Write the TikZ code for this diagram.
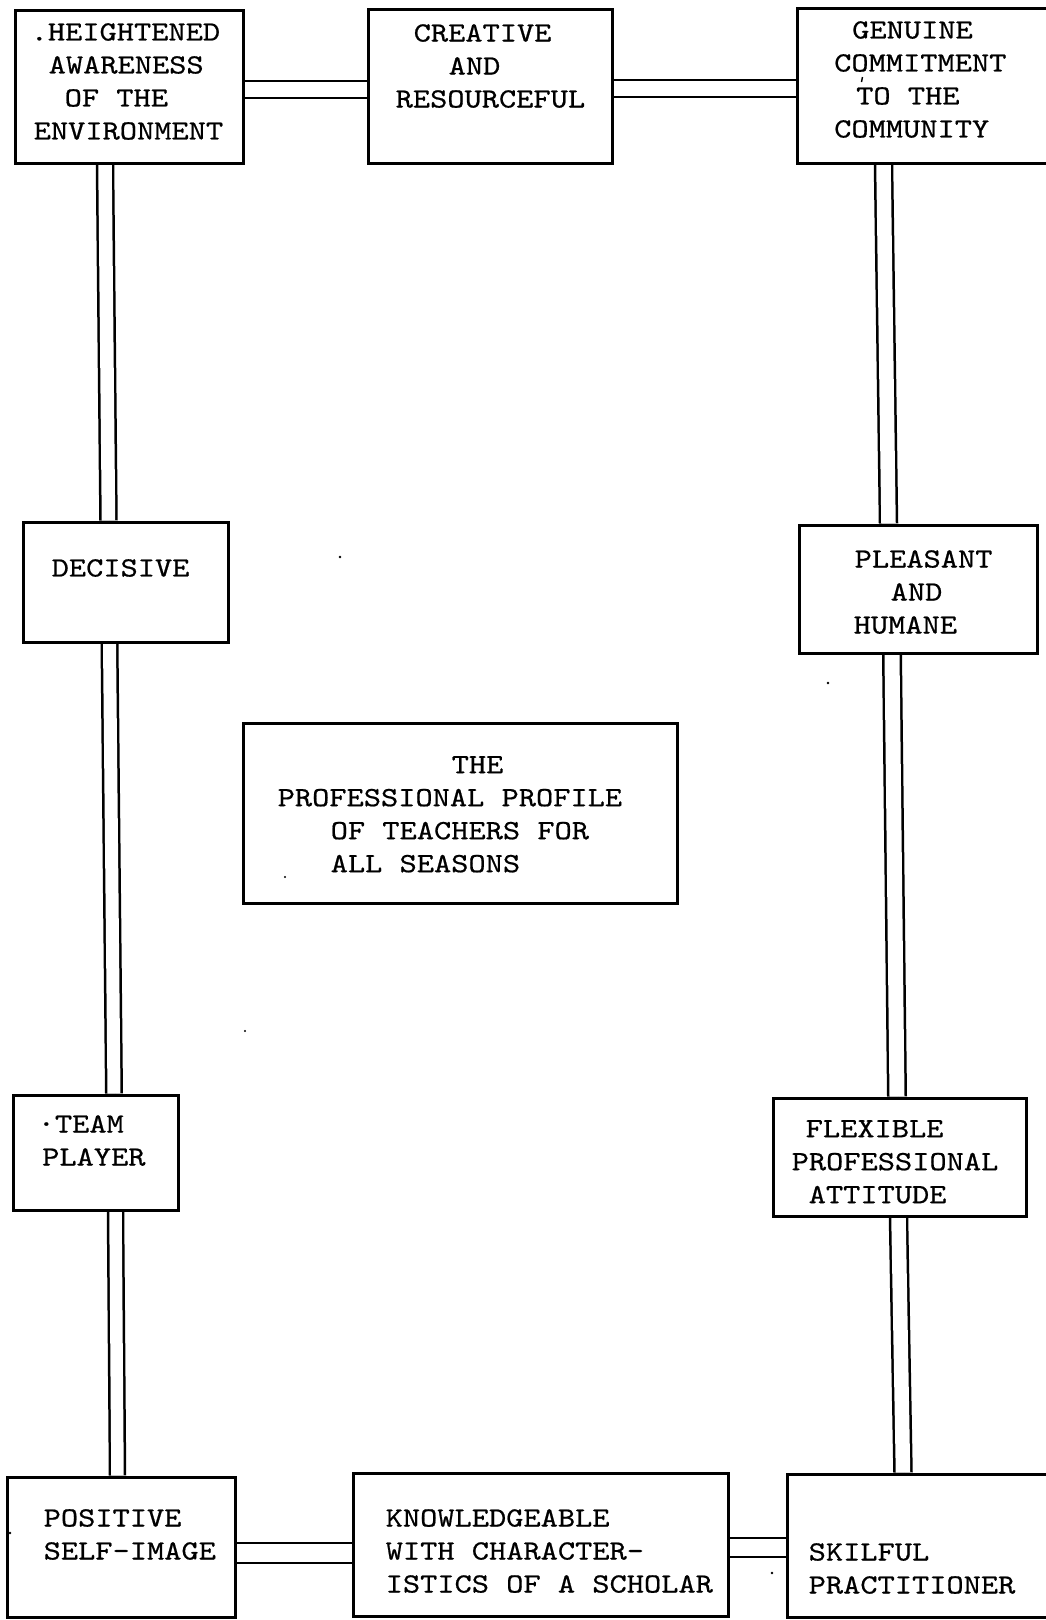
\documentclass[tikz,border=0pt]{standalone}
\usepackage{fontspec}
\usetikzlibrary{backgrounds}
% typewriter face, widened to a pica pitch and given a little ink
\newfontfamily\typer{lmmono10-regular.otf}[FakeStretch=1.18,FakeBold=0.6]
\newcommand\hsk[1]{\hspace*{#1pt}}
\begin{document}
\begin{tikzpicture}[x=1pt,y=-1pt,
  box/.style={draw, line width=3pt, inner sep=0pt},
  lbl/.style={anchor=north west, inner sep=0pt, align=left,
    font={\typer\fontsize{27.8pt}{33pt}\selectfont}},
  link/.style={draw, double, line width=2.5pt, double distance=#1},
  speck/.style={fill=black}]
\useasboundingbox (0,0) rectangle (1046,1620);

% boxes
\node[box, minimum width=228pt, minimum height=153pt] (hei) at (129,86.5) {};
\node[box, minimum width=244pt, minimum height=154pt] (cre) at (490,86) {};
\node[box, minimum width=255pt, minimum height=155pt] (gen) at (924.5,85.5) {};
\node[box, minimum width=205pt, minimum height=120pt] (dec) at (125.5,582) {};
\node[box, minimum width=238pt, minimum height=128pt] (ple) at (918,589) {};
\node[box, minimum width=434pt, minimum height=180pt] (cen) at (460,813) {};
\node[box, minimum width=165pt, minimum height=115pt] (team) at (95.5,1152.5) {};
\node[box, minimum width=253pt, minimum height=118pt] (flex) at (899.5,1157) {};
\node[box, minimum width=228pt, minimum height=140pt] (pos) at (121,1547) {};
\node[box, minimum width=375pt, minimum height=143pt] (kno) at (540.5,1544.5) {};
\node[box, minimum width=265pt, minimum height=143pt] (skil) at (919.5,1545.5) {};

% labels
\node[lbl] (heit) at (30.5,23) {.HEIGHTENED\\\hsk{18}AWARENESS\\\hsk{34}OF THE\\\hsk{3}ENVIRONMENT};
\node[lbl] (cret) at (395.5,24) {\hsk{18}CREATIVE\\\hsk{53}AND\\RESOURCEFUL};
\node[lbl] (gent) at (834,21) {\hsk{18}GENUINE\\COMMITMENT\\\hsk{22}TO THE\\COMMUNITY};
\node[lbl] (dect) at (51.5,559) {DECISIVE};
\node[lbl] (plet) at (853.5,550) {\hsk{1}PLEASANT\\\hsk{37}AND\\HUMANE};
\node[lbl] (cent) at (277.5,756) {\hsk{174}THE\\PROFESSIONAL PROFILE\\\hsk{53}OF TEACHERS FOR\\\hsk{53}ALL SEASONS};
\node[lbl] (teamt) at (37.5,1115) {·TEAM\\\hsk{4.5}PLAYER};
\node[lbl] (flext) at (791.5,1120) {\hsk{14}FLEXIBLE\\PROFESSIONAL\\\hsk{17}ATTITUDE};
\node[lbl] (post) at (43.5,1509) {POSITIVE\\SELF-IMAGE};
\node[lbl] (knot) at (385.5,1509) {KNOWLEDGEABLE\\WITH CHARACTER-\\ISTICS OF A SCHOLAR};
\node[lbl] (skilt) at (808.5,1543) {SKILFUL\\PRACTITIONER};

% double-ruled links, kept behind the box outlines
\begin{scope}[on background layer]
\draw[link=14.5pt] ([yshift=-3pt]hei.east) -- ([yshift=-3.5pt]cre.west);
\draw[link=14.5pt] ([yshift=-2.5pt]cre.east) -- ([yshift=-3pt]gen.west);
\draw[link=13.5pt] ([xshift=-24pt]hei.south) -- ([xshift=-17pt]dec.north);
\draw[link=13pt] ([xshift=-16pt]dec.south) -- ([xshift=18.5pt]team.north);
\draw[link=12.5pt] ([xshift=20pt]team.south) -- ([xshift=-3.5pt]pos.north);
\draw[link=14.5pt] ([xshift=-41pt]gen.south) -- ([xshift=-29.5pt]ple.north);
\draw[link=15pt] ([xshift=-26pt]ple.south) -- ([xshift=-2.5pt]flex.north);
\draw[link=14.5pt] ([xshift=-1pt]flex.south) -- ([xshift=-16.5pt]skil.north);
\draw[link=17.5pt] ([yshift=-6pt]pos.east) -- ([yshift=-8.5pt]kno.west);
\draw[link=16.5pt] ([yshift=-3pt]kno.east) -- ([yshift=-2pt]skil.west);
\end{scope}

% stray typing specks
\fill[speck] (340,557) circle (1.4);
\fill[speck] (828,683) circle (1.4);
\fill[speck] (285,877) circle (1.2);
\fill[speck] (245,1031) circle (1.2);
\fill[speck] (772,1573) circle (1.3);
\fill[speck] (10,1533) circle (1.3);
\draw[line width=1.4pt] (862.5,77) -- (861.5,82);
\end{tikzpicture}
\end{document}
